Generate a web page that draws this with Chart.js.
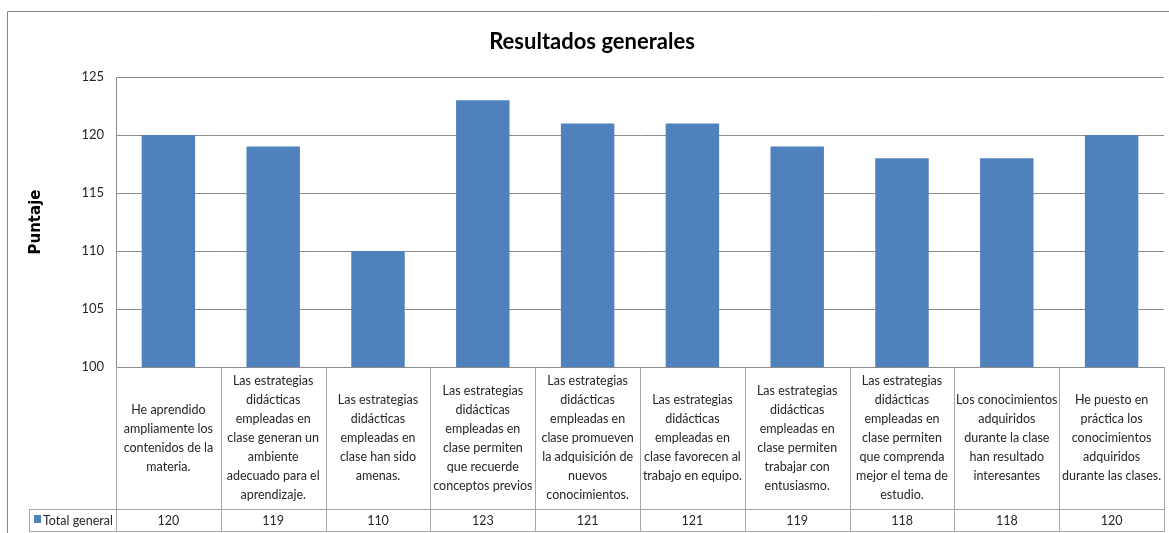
<!DOCTYPE html>
<html>
<head>
<meta charset="utf-8">
<script src="https://cdn.jsdelivr.net/npm/chart.js@4"></script>
<style>
  html, body { margin: 0; padding: 0; background: #fff; }
  #wrap { width: 1169px; height: 533px; }
</style>
</head>
<body>
<div id="wrap"><canvas id="chart" width="1169" height="533"></canvas></div>
<script>
const categories = [
    ['He aprendido', 'ampliamente los', 'contenidos de la', 'materia.'],
    ['Las estrategias', 'didácticas', 'empleadas en', 'clase generan un', 'ambiente', 'adecuado para el', 'aprendizaje.'],
    ['Las estrategias', 'didácticas', 'empleadas en', 'clase han sido', 'amenas.'],
    ['Las estrategias', 'didácticas', 'empleadas en', 'clase permiten', 'que recuerde', 'conceptos previos'],
    ['Las estrategias', 'didácticas', 'empleadas en', 'clase promueven', 'la adquisición de', 'nuevos', 'conocimientos.'],
    ['Las estrategias', 'didácticas', 'empleadas en', 'clase favorecen al', 'trabajo en equipo.'],
    ['Las estrategias', 'didácticas', 'empleadas en', 'clase permiten', 'trabajar con', 'entusiasmo.'],
    ['Las estrategias', 'didácticas', 'empleadas en', 'clase permiten', 'que comprenda', 'mejor el tema de', 'estudio.'],
    ['Los conocimientos', 'adquiridos', 'durante la clase', 'han resultado', 'interesantes'],
    ['He puesto en', 'práctica los', 'conocimientos', 'adquiridos', 'durante las clases.']
];
const totals = [120, 119, 110, 123, 121, 121, 119, 118, 118, 120];
const seriesName = 'Total general';
const yTicks = [100, 105, 110, 115, 120, 125];

const barColor = '#4f81bd';
const textFont = 'Lato, "Open Sans", sans-serif';

// frame around the whole chart + data table under the axis
const tablePlugin = {
    id: 'dataTable',
    beforeDraw(chart) {
        const ctx = chart.ctx;
        ctx.save();
        ctx.strokeStyle = '#868686';
        ctx.lineWidth = 1;
        ctx.beginPath();
        ctx.moveTo(7.5, chart.height);
        ctx.lineTo(7.5, 11.5);
        ctx.lineTo(chart.width, 11.5);
        ctx.stroke();
        ctx.restore();
    },
    afterDraw(chart) {
        const ctx = chart.ctx;
        const x = chart.scales.x;
        const area = chart.chartArea;
        const colW = (area.right - area.left) / categories.length;
        const labelBottom = 509;
        const rowBottom = 531;
        const legendLeft = 29;

        ctx.save();
        ctx.strokeStyle = '#a6a6a6';
        ctx.lineWidth = 1;
        ctx.beginPath();
        for (let i = 0; i <= categories.length; i++) {
            const px = Math.round(area.left + i * colW) + 0.5;
            ctx.moveTo(px, area.bottom);
            ctx.lineTo(px, rowBottom);
        }
        ctx.moveTo(legendLeft + 0.5, labelBottom);
        ctx.lineTo(legendLeft + 0.5, rowBottom);
        ctx.moveTo(legendLeft, labelBottom + 0.5);
        ctx.lineTo(area.right + 1, labelBottom + 0.5);
        ctx.moveTo(legendLeft, rowBottom + 0.5);
        ctx.lineTo(area.right + 1, rowBottom + 0.5);
        ctx.stroke();

        ctx.fillStyle = '#262626';
        ctx.font = '12.5px ' + textFont;
        ctx.textAlign = 'center';
        ctx.textBaseline = 'middle';
        const lh = 19;
        const midY = (area.bottom + labelBottom) / 2;
        categories.forEach((lines, i) => {
            const cx = x.getPixelForValue(i);
            const y0 = midY - (lines.length - 1) * lh / 2;
            lines.forEach((t, j) => ctx.fillText(t, cx, y0 + j * lh));
            ctx.fillText(String(totals[i]), cx, (labelBottom + rowBottom) / 2 + 1);
        });

        // legend key
        ctx.fillStyle = barColor;
        ctx.fillRect(34, 515, 7, 8);
        ctx.fillStyle = '#262626';
        ctx.textAlign = 'left';
        ctx.fillText(seriesName, 43, (labelBottom + rowBottom) / 2 + 1);
        ctx.restore();
    }
};

new Chart(document.getElementById('chart'), {
    type: 'bar',
    data: {
        labels: categories,
        datasets: [{
            label: seriesName,
            data: totals,
            backgroundColor: barColor,
            borderWidth: 0,
            categoryPercentage: 1,
            barPercentage: 0.51
        }]
    },
    options: {
        responsive: false,
        animation: false,
        layout: { padding: { left: 20, right: 5, top: 0, bottom: 166 } },
        plugins: {
            legend: { display: false },
            tooltip: { enabled: false },
            title: {
                display: true,
                text: 'Resultados generales',
                color: '#000',
                font: { family: textFont, size: 22, weight: 'bold' },
                padding: { top: 29, bottom: 21.6 }
            }
        },
        scales: {
            x: {
                display: false
            },
            y: {
                min: yTicks[0],
                max: yTicks[yTicks.length - 1],
                afterFit(scale) { scale.width = 96; },
                afterBuildTicks(scale) { scale.ticks = yTicks.map(v => ({ value: v })); },
                ticks: {
                    padding: 12,
                    color: '#262626',
                    font: { family: textFont, size: 13 }
                },
                grid: { color: '#8c8c8c', drawTicks: false },
                border: { color: '#8c8c8c' },
                title: {
                    display: true,
                    text: 'Puntaje',
                    color: '#000',
                    font: { family: '"DejaVu Sans", sans-serif', size: 15, weight: 'bold' },
                    padding: { top: 7, bottom: 0 }
                }
            }
        }
    },
    plugins: [tablePlugin]
});
</script>
</body>
</html>
